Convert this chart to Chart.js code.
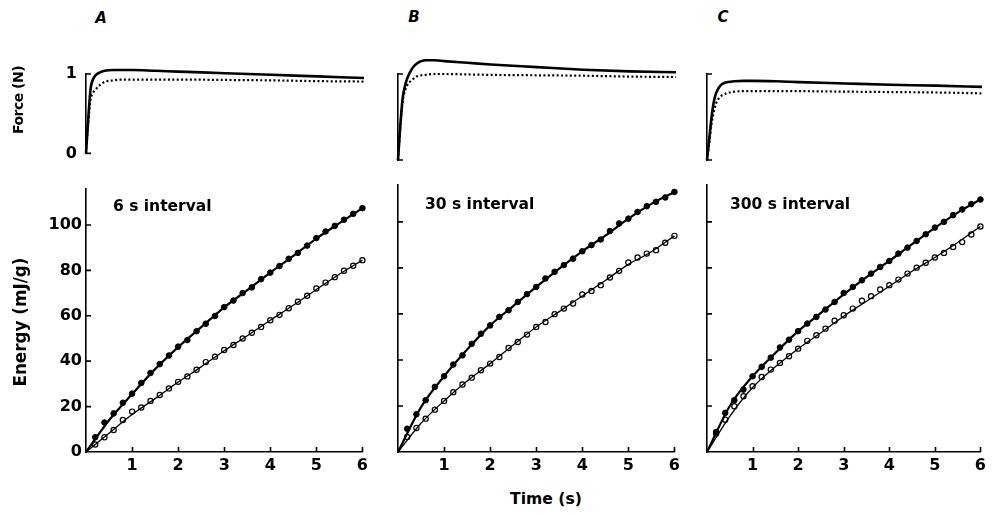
<!DOCTYPE html>
<html>
<head>
<meta charset="utf-8">
<script src="https://cdn.jsdelivr.net/npm/chart.js@4.4.1/dist/chart.umd.min.js"></script>
<style>
  html, body { margin: 0; padding: 0; background: #fff; }
  body { width: 996px; height: 515px; position: relative; overflow: hidden; font-family: "DejaVu Sans", sans-serif; font-weight: bold; color: #000; }
  canvas { position: absolute; }
  .t { position: absolute; white-space: nowrap; line-height: 1; }
  .c { transform: translate(-50%, -50%); }
  .r { transform: translate(-50%, -50%) rotate(-90deg); }
  .l { transform: translate(0, -50%); }
  .p { font-style: italic; font-weight: bold; font-size: 15px; }
</style>
</head>
<body>
<canvas id="fA"></canvas><canvas id="fB"></canvas><canvas id="fC"></canvas>
<canvas id="eA"></canvas><canvas id="eB"></canvas><canvas id="eC"></canvas>

<div class="t c p" style="left:101px;top:18px;">A</div>
<div class="t c p" style="left:414px;top:17px;">B</div>
<div class="t c p" style="left:723px;top:17px;">C</div>
<div class="t r" style="left:18px;top:100px;font-size:14px;letter-spacing:-0.5px;">Force (N)</div>
<div class="t r" style="left:20px;top:322px;font-size:16.8px;">Energy (mJ/g)</div>
<div class="t l" style="left:113px;top:207px;font-size:15.5px;">6 s interval</div>
<div class="t l" style="left:425px;top:205px;font-size:15.5px;">30 s interval</div>
<div class="t l" style="left:730px;top:205px;font-size:15.5px;">300 s interval</div>
<div class="t c" style="left:546px;top:500px;font-size:15.6px;">Time (s)</div>

<script>
// ---------- DATA ----------
// Force traces (N) vs time (s)
const forceTimes = [0, 0.05, 0.1, 0.15, 0.2, 0.3, 0.4, 0.6, 0.8, 1, 1.5, 2, 3, 4, 5, 6];
const forceA_solid  = [0, 0.45, 0.82, 0.93, 0.98, 1.02, 1.04, 1.05, 1.05, 1.05, 1.04, 1.03, 1.01, 0.99, 0.97, 0.95];
const forceA_dotted = [0, 0.40, 0.68, 0.76, 0.80, 0.86, 0.90, 0.92, 0.93, 0.93, 0.93, 0.93, 0.925, 0.92, 0.91, 0.905];
const forceB_solid  = [0, 0.40, 0.72, 0.86, 0.95, 1.06, 1.12, 1.16, 1.16, 1.15, 1.13, 1.11, 1.08, 1.05, 1.03, 1.02];
const forceB_dotted = [0, 0.38, 0.68, 0.80, 0.87, 0.93, 0.97, 0.99, 1.00, 1.00, 0.995, 0.99, 0.985, 0.98, 0.97, 0.965];
const forceC_solid  = [0, 0.25, 0.50, 0.68, 0.78, 0.87, 0.90, 0.915, 0.92, 0.92, 0.915, 0.905, 0.89, 0.875, 0.865, 0.85];
const forceC_dotted = [0, 0.20, 0.42, 0.56, 0.66, 0.74, 0.77, 0.795, 0.80, 0.80, 0.80, 0.80, 0.795, 0.79, 0.785, 0.775];

// Energy (mJ/g) measured points vs time (s)
const pointTimes = [0.2, 0.4, 0.6, 0.8, 1.0, 1.2, 1.4, 1.6, 1.8, 2.0, 2.2, 2.4, 2.6, 2.8, 3.0,
                    3.2, 3.4, 3.6, 3.8, 4.0, 4.2, 4.4, 4.6, 4.8, 5.0, 5.2, 5.4, 5.6, 5.8, 6.0];
const energyA_filled = [6.5, 13.0, 17.0, 21.7, 25.7, 30.4, 34.8, 38.7, 42.5, 46.4, 49.3, 53.2, 56.5, 59.9, 63.8,
                        66.7, 70.0, 72.5, 76.1, 79.0, 81.9, 85.1, 87.7, 90.9, 94.2, 97.1, 99.6, 102.3, 104.9, 107.4];
const energyA_open   = [3.3, 6.5, 9.7, 14.1, 17.8, 19.6, 22.5, 25.1, 28.0, 30.9, 33.3, 36.2, 39.6, 42.0, 44.9,
                        47.1, 50.0, 52.5, 55.1, 58.0, 60.4, 63.3, 66.2, 68.8, 72.0, 74.6, 77.0, 79.8, 82.0, 84.5];
const energyB_filled = [10.1, 16.4, 22.5, 28.3, 32.9, 38.0, 42.0, 47.0, 51.4, 55.0, 58.7, 61.6, 65.2, 68.6, 71.7,
                        75.4, 78.3, 81.2, 84.0, 87.2, 89.9, 92.3, 96.0, 99.3, 101.4, 104.3, 106.8, 108.7, 110.6, 113.0];
const energyB_open   = [6.5, 10.4, 14.5, 18.4, 22.2, 26.0, 29.3, 32.3, 35.5, 38.4, 41.3, 45.2, 47.8, 51.0, 54.3,
                        56.5, 59.9, 62.3, 64.5, 68.4, 70.0, 72.5, 75.8, 78.7, 82.3, 84.5, 86.2, 87.7, 90.9, 93.9];
const energyC_filled = [8.7, 17.0, 22.5, 27.1, 32.9, 37.0, 41.0, 45.4, 48.8, 52.5, 55.8, 58.7, 61.9, 65.2, 69.1,
                        71.7, 74.6, 77.5, 80.4, 83.0, 86.2, 88.8, 91.7, 94.6, 97.5, 100.0, 102.9, 105.4, 107.7, 109.7];
const energyC_open   = [8.0, 14.0, 19.9, 24.2, 28.6, 32.6, 35.8, 38.7, 41.6, 44.9, 48.3, 50.7, 53.6, 57.0, 59.4,
                        62.3, 65.7, 67.7, 70.6, 72.5, 74.9, 77.5, 80.1, 82.2, 84.5, 86.5, 89.1, 91.2, 94.5, 98.0];

// Fitted curves
const fitTimes = [0, 0.5, 1, 1.5, 2, 2.5, 3, 3.5, 4, 4.5, 5, 5.5, 6];
const fitA_filled = [0, 14, 25.5, 36.5, 46.2, 55, 63.7, 71.3, 79, 86.4, 94, 100.8, 107.4];
const fitA_open   = [0, 8.3, 16.5, 23.5, 30.8, 37.5, 44.6, 51.2, 58, 64.6, 71.6, 78.3, 84.5];
const fitB_filled = [0, 19.5, 32.9, 44.5, 55, 63.4, 71.7, 79.7, 87.2, 94, 101.4, 107.8, 113];
const fitB_open   = [0, 12.5, 22.2, 30.8, 38.4, 46.5, 54.3, 61, 67.8, 74.5, 81.5, 87, 93.9];
const fitC_filled = [0, 20, 32.9, 43, 52.5, 60.4, 68.5, 76, 83, 90.3, 97.4, 104, 109.7];
const fitC_open   = [0, 15.5, 28, 37, 44.9, 51.8, 59, 65.5, 72, 78.5, 84.5, 91, 98];

// Tick settings
const timeTickStep = 1;
const energyTickStep = 20;
const energyMax = 116;
const forceTickStep = 1;

// ---------- DRAWING ----------
const zip = (xs, ys) => xs.map((x, i) => ({ x: x, y: ys[i] }));
const FONT_TICK = { family: 'DejaVu Sans', size: 16, weight: 'bold' };

const inwardTicks = {
  id: 'inwardTicks',
  afterDraw(chart) {
    const ctx = chart.ctx, a = chart.chartArea;
    const xs = chart.scales.x, ys = chart.scales.y;
    const isForce = chart.options.plugins.inwardTicks.force;
    ctx.save();
    ctx.strokeStyle = '#000';
    ctx.lineWidth = 1.6;
    ctx.beginPath();
    if (xs.options.display) {
      xs.ticks.forEach(t => {
        if (t.value === 0) return;
        const px = Math.round(xs.getPixelForValue(t.value)) + 0.5;
        ctx.moveTo(px, a.bottom); ctx.lineTo(px, a.bottom - 5);
      });
    }
    ys.ticks.forEach(t => {
      if (t.value === 0 && !isForce) return;
      const py = ys.getPixelForValue(t.value);
      ctx.moveTo(a.left, py); ctx.lineTo(a.left + 5, py);
    });
    ctx.stroke();
    ctx.restore();
  }
};

function place(id, left, top, w, h) {
  const c = document.getElementById(id);
  c.width = w; c.height = h;
  c.style.left = left + 'px'; c.style.top = top + 'px';
  c.style.width = w + 'px'; c.style.height = h + 'px';
  return c;
}

function forceChart(id, left, width, yAxisW, solid, dotted, showLabels) {
  const c = place(id, left, 40, width, 132);
  new Chart(c, {
    type: 'scatter',
    data: {
      datasets: [
        { data: zip(forceTimes, solid), showLine: true, borderColor: '#000', borderWidth: 2.6,
          pointRadius: 0, cubicInterpolationMode: 'monotone', clip: false },
        { data: zip(forceTimes, dotted), showLine: true, borderColor: '#000', borderWidth: 2.2,
          borderDash: [2, 2.4], pointRadius: 0, cubicInterpolationMode: 'monotone', clip: false }
      ]
    },
    options: {
      responsive: false, animation: false, devicePixelRatio: 1,
      layout: { padding: { top: 34, bottom: 12, right: 8, left: 0 } },
      plugins: { legend: { display: false }, tooltip: { enabled: false }, inwardTicks: { force: true } },
      scales: {
        x: { type: 'linear', min: 0, max: 6, display: false },
        y: { type: 'linear', min: 0, max: 1,
             afterFit: s => { s.width = yAxisW; },
             grid: { display: false, drawTicks: false },
             border: { display: true, color: '#000', width: 1.6 },
             ticks: { display: showLabels, stepSize: forceTickStep, padding: 9, color: '#000', font: FONT_TICK } }
      }
    },
    plugins: [inwardTicks]
  });
}

function energyChart(id, left, width, yAxisW, pFilled, pOpen, fFilled, fOpen, showYLabels) {
  const c = place(id, left, 175, width, 305);
  new Chart(c, {
    type: 'scatter',
    data: {
      datasets: [
        { data: zip(fitTimes, fFilled), showLine: true, borderColor: '#000', borderWidth: 2.2,
          pointRadius: 0, cubicInterpolationMode: 'monotone', clip: false },
        { data: zip(fitTimes, fOpen), showLine: true, borderColor: '#000', borderWidth: 1.3,
          pointRadius: 0, cubicInterpolationMode: 'monotone', clip: false },
        { data: zip(pointTimes, pFilled), showLine: false, pointRadius: 2.8, pointBorderWidth: 1,
          pointBackgroundColor: '#000', pointBorderColor: '#000', clip: false },
        { data: zip(pointTimes, pOpen), showLine: false, pointRadius: 2.6, pointBorderWidth: 1.2,
          pointBackgroundColor: '#fff', pointBorderColor: '#000', clip: false }
      ]
    },
    options: {
      responsive: false, animation: false, devicePixelRatio: 1,
      layout: { padding: { top: 10, bottom: 0, right: 8, left: 0 } },
      plugins: { legend: { display: false }, tooltip: { enabled: false }, inwardTicks: { force: false } },
      scales: {
        x: { type: 'linear', min: 0, max: 6,
             afterFit: s => { s.height = 28; },
             grid: { display: false, drawTicks: false },
             border: { display: true, color: '#000', width: 1.6 },
             ticks: { stepSize: timeTickStep, padding: 4, color: '#000', font: FONT_TICK,
                      maxRotation: 0, autoSkip: false,
                      callback: v => (v === 0 ? '' : String(v)) } },
        y: { type: 'linear', min: 0, max: energyMax,
             afterFit: s => { s.width = yAxisW; },
             grid: { display: false, drawTicks: false },
             border: { display: true, color: '#000', width: 1.6 },
             ticks: { display: showYLabels, stepSize: energyTickStep, includeBounds: false, padding: 4,
                      color: '#000', font: FONT_TICK } }
      }
    },
    plugins: [inwardTicks]
  });
}

forceChart('fA', 0, 372, 86, forceA_solid, forceA_dotted, true);
forceChart('fB', 372, 312, 26, forceB_solid, forceB_dotted, false);
forceChart('fC', 684, 306, 23, forceC_solid, forceC_dotted, false);

energyChart('eA', 0, 372, 86, energyA_filled, energyA_open, fitA_filled, fitA_open, true);
energyChart('eB', 372, 312, 26, energyB_filled, energyB_open, fitB_filled, fitB_open, false);
energyChart('eC', 684, 306, 23, energyC_filled, energyC_open, fitC_filled, fitC_open, false);
</script>
</body>
</html>
